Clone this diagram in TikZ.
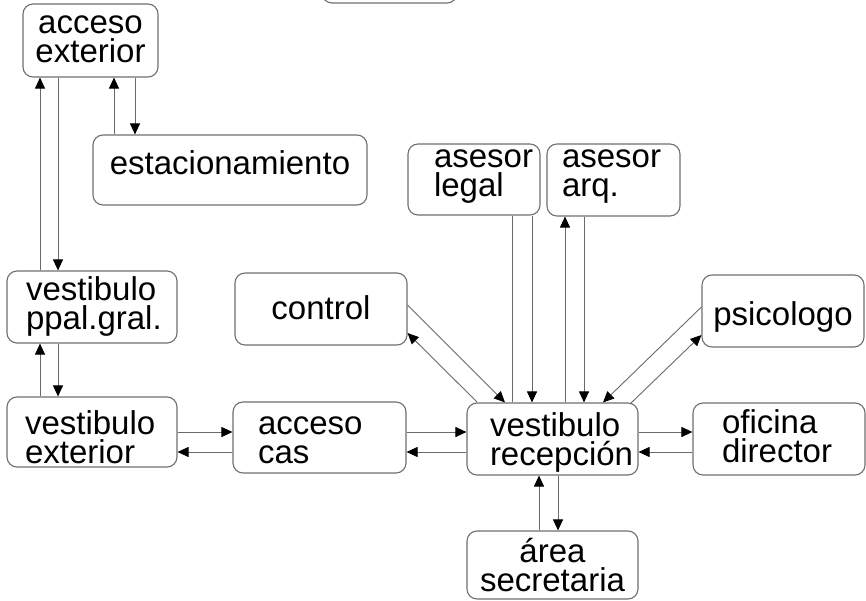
\documentclass[tikz,border=0pt]{standalone}
\usepackage{fontspec}
\setmainfont{Liberation Sans}
\usetikzlibrary{arrows.meta}
\definecolor{boxc}{HTML}{707070}
\definecolor{linec}{HTML}{6A6A6A}
\hyphenpenalty=10000
\exhyphenpenalty=10000
\tikzset{
  box/.style={draw=boxc, line width=1.1pt, rounded corners=10pt, inner ysep=0pt, inner xsep=0pt,
    font=\fontsize{33}{29}\selectfont},
  sz/.style 2 args={minimum width=#1pt, minimum height=#2pt},
  tv/.style 2 args={text height=#1pt, text depth=#2pt},
  ctr/.style={align=center},
  ctrw/.style={text width=#1pt, align=center},
  lft/.style 2 args={inner xsep=#1pt, text width=#2pt, align=left},
  arr/.style={draw=linec, line width=0.9pt, -{Triangle[length=11pt,width=10pt,color=black]}},
  plain/.style={draw=linec, line width=0.9pt},
}
\begin{document}
\begin{tikzpicture}[x=1pt,y=-1pt]
\useasboundingbox (0,0) rectangle (866,601);
\fill[white] (0,0) rectangle (866,601);

% nodes
\node[box, minimum width=135pt, minimum height=42pt] (topbox) at (389.5,-18) {};
\node[box, sz={135}{73}, ctrw=135, tv={20}{33}] (accext) at (90.5,40.5) {acceso\\exterior};
\node[box, sz={274}{70}, ctr, tv={20}{10}] (estac) at (230,170) {estacionamiento};
\node[box, sz={132}{71}, lft={26}{80}, tv={20}{43}] (legal) at (474,179.5) {asesor\\legal};
\node[box, sz={133}{72}, lft={15}{103}, tv={20}{44}] (arq) at (613.5,180) {asesor\\arq.};
\node[box, sz={170}{72}, lft={19}{132}, tv={20}{34}] (ppal) at (92,307) {vestibulo\\ppal.gral.};
\node[box, sz={170}{70}, lft={18}{134}, tv={20}{16}] (vext) at (92,432) {vestibulo\\exterior};
\node[box, sz={172}{72}, ctr, tv={24}{4}] (control) at (321,309) {control};
\node[box, sz={173}{71}, lft={25}{123}, tv={20}{27}] (acas) at (319.5,437.5) {acceso\\cas};
\node[box, sz={171}{72}, lft={23}{125}, tv={20}{26}] (recep) at (552.5,439) {vestibulo\\recepción};
\node[box, sz={162}{72}, ctr, tv={30}{2}] (psico) at (783,311) {psicologo};
\node[box, sz={172}{72}, lft={29}{114}, tv={20}{32}] (ofic) at (779,439) {oficina\\director};
\node[box, sz={171}{68}, ctrw=171, tv={20}{26}] (secret) at (552.5,565) {área\\secretaria};

% acceso exterior <-> vestibulo ppal.gral.
\draw[arr] (40,0 |- ppal.north) -- (40,0 |- accext.south);
\draw[arr] (58,0 |- accext.south) -- (58,0 |- ppal.north);
% acceso exterior <-> estacionamiento
\draw[arr] (114,0 |- estac.north) -- (114,0 |- accext.south);
\draw[arr] (135,0 |- accext.south) -- (135,0 |- estac.north);
% vestibulo ppal <-> vestibulo exterior
\draw[arr] (40,0 |- vext.north) -- (40,0 |- ppal.south);
\draw[arr] (58,0 |- ppal.south) -- (58,0 |- vext.north);
% vestibulo exterior <-> acceso cas
\draw[arr] (vext.east |- 0,432) -- (acas.west |- 0,432);
\draw[arr] (acas.west |- 0,452) -- (vext.east |- 0,452);
% acceso cas <-> recepcion
\draw[arr] (acas.east |- 0,432) -- (recep.west |- 0,432);
\draw[arr] (recep.west |- 0,452) -- (acas.east |- 0,452);
% recepcion <-> oficina director
\draw[arr] (recep.east |- 0,432) -- (ofic.west |- 0,432);
\draw[arr] (ofic.west |- 0,452) -- (recep.east |- 0,452);
% recepcion <-> area secretaria
\draw[arr] (539,0 |- secret.north) -- (539,0 |- recep.south);
\draw[arr] (558,0 |- recep.south) -- (558,0 |- secret.north);
% asesor legal <-> recepcion
\draw[plain] (512,0 |- legal.south) -- (512,0 |- recep.north);
\draw[arr] (532,0 |- legal.south) -- (532,0 |- recep.north);
% asesor arq <-> recepcion
\draw[arr] (565,0 |- recep.north) -- (565,0 |- arq.south);
\draw[arr] (584,0 |- arq.south) -- (584,0 |- recep.north);
% control <-> recepcion
\coordinate (cA) at (477,402);
\draw[arr] (control.east |- 0,305) -- (505,0 |- recep.north);
\draw[arr] (cA) -- (control.east |- 0,333);
% psicologo <-> recepcion
\coordinate (pB) at (630,404);
\draw[arr] (psico.west |- 0,307) -- (603,0 |- recep.north);
\draw[arr] (pB) -- (psico.west |- 0,335);
\end{tikzpicture}
\end{document}
